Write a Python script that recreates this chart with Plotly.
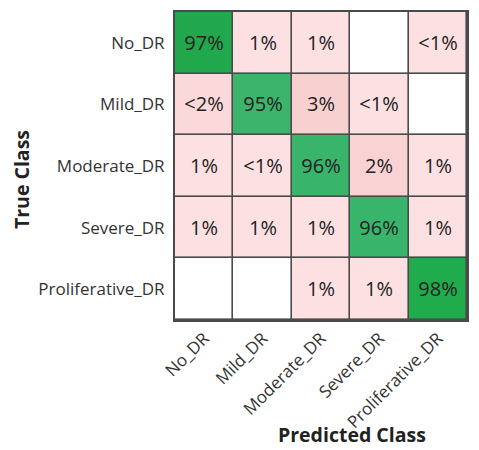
import plotly.graph_objects as go

classes = ["No_DR", "Mild_DR", "Moderate_DR", "Severe_DR", "Proliferative_DR"]
# percentages (rows = true class, cols = predicted class); None = empty cell
values = [
    [97, 1, 1, None, 0.5],
    [1.5, 95, 3, 0.5, None],
    [1, 0.5, 96, 2, 1],
    [1, 1, 1, 96, 1],
    [None, None, 1, 1, 98],
]
labels = [
    ["97%", "1%", "1%", "", "<1%"],
    ["<2%", "95%", "3%", "<1%", ""],
    ["1%", "<1%", "96%", "2%", "1%"],
    ["1%", "1%", "1%", "96%", "1%"],
    ["", "", "1%", "1%", "98%"],
]

z = [[-1 if v is None else v for v in row] for row in values]

def n(v):
    return (v + 1) / 101.0

colorscale = [
    [0.0, "#ffffff"],
    [n(0.5), "#fde0e2"],
    [n(1), "#fde0e2"],
    [n(1.5), "#fbd8d9"],
    [n(2), "#f9d3d3"],
    [n(3), "#f8d0d0"],
    [n(94), "#f8d0d0"],
    [n(95), "#3cb46c"],
    [n(96), "#38b56b"],
    [n(97), "#22a84c"],
    [n(98), "#20ab4c"],
    [1.0, "#20ab4c"],
]

FONT = "Open Sans"

# page has an 8px body margin, so the figure is sized to fit the window
W, H = 463, 442
L, T, R, B = 167, 4, 2, 130
PW, PH = W - L - R, H - T - B

fig = go.Figure(go.Heatmap(
    z=z, x=classes, y=classes, text=labels, texttemplate="%{text}",
    textfont=dict(family=FONT, size=20, color="#222222"),
    colorscale=colorscale, zmin=-1, zmax=100, showscale=False,
    xgap=1.6, ygap=1.6, hoverinfo="skip",
))

fig.update_layout(
    width=W, height=H, autosize=False,
    margin=dict(l=L, r=R, t=T, b=B),
    paper_bgcolor="white", plot_bgcolor="#4a4a4a",
    font=dict(family=FONT, color="#333333"),
    showlegend=False,
)
fig.update_xaxes(
    tickangle=-45, tickfont=dict(family=FONT, size=17, color="#333333"),
    showgrid=False, zeroline=False, showline=True, mirror=True,
    linecolor="#4a4a4a", linewidth=2, ticks="",
)
fig.update_yaxes(
    autorange="reversed", tickfont=dict(family=FONT, size=17, color="#333333"),
    showgrid=False, zeroline=False, showline=True, mirror=True,
    linecolor="#4a4a4a", linewidth=2, ticks="outside", ticklen=5, tickcolor="white",
)

def px(xp):
    return (xp - 8 - L) / PW

def py(yp):
    return (T + PH - (yp - 8)) / PH

fig.add_annotation(
    text="<b>True Class</b>", textangle=-90, xref="paper", yref="paper",
    x=px(20), y=py(180), showarrow=False,
    font=dict(family=FONT, size=19.5, color="#222222"),
    xanchor="center", yanchor="middle",
)
fig.add_annotation(
    text="<b>Predicted Class</b>", xref="paper", yref="paper",
    x=px(353), y=py(434), showarrow=False, borderpad=0,
    font=dict(family=FONT, size=19.5, color="#222222"),
    xanchor="center", yanchor="middle",
)

fig.write_html("out.html")
